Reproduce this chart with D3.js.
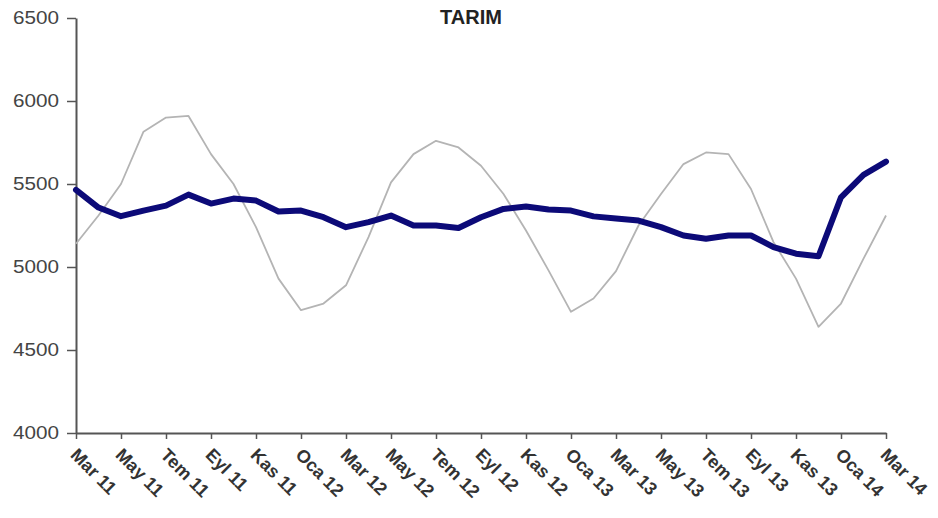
<!DOCTYPE html>
<html><head><meta charset="utf-8">
<script src="https://cdn.jsdelivr.net/npm/d3@7/dist/d3.min.js"></script>
<style>body{margin:0;background:#fff}svg{display:block}</style>
</head><body>
<svg id="c" width="938" height="518"></svg>
<script>
const months = ["Mar 11","Nis 11","May 11","Haz 11","Tem 11","Ağu 11","Eyl 11","Eki 11","Kas 11","Ara 11",
"Oca 12","Şub 12","Mar 12","Nis 12","May 12","Haz 12","Tem 12","Ağu 12","Eyl 12","Eki 12","Kas 12","Ara 12",
"Oca 13","Şub 13","Mar 13","Nis 13","May 13","Haz 13","Tem 13","Ağu 13","Eyl 13","Eki 13","Kas 13","Ara 13",
"Oca 14","Şub 14","Mar 14"];
const seasonal = [5465,5358,5306,5340,5370,5436,5382,5412,5400,5334,5340,5300,5240,5270,5310,5250,5250,5235,5300,5350,5364,5346,5340,5305,5292,5280,5240,5190,5170,5190,5190,5120,5080,5065,5420,5555,5635];
const raw = [5140,5310,5500,5815,5900,5910,5680,5500,5240,4930,4740,4780,4890,5180,5510,5680,5760,5720,5610,5440,5220,4980,4730,4810,4975,5250,5440,5620,5690,5680,5470,5150,4930,4640,4780,5050,5310];
const yTicks = [4000,4500,5000,5500,6000,6500];
const title = "TARIM";

const svg = d3.select("#c");
const mLeft = 76, mRight = 886, mTop = 18, mBottom = 433;
const x = d3.scalePoint().domain(months).range([mLeft, mRight]);
const y = d3.scaleLinear().domain([4000, 6500]).range([mBottom, mTop]);

// y axis
const ya = svg.append("g").attr("transform", `translate(${mLeft},0)`)
  .call(d3.axisLeft(y).tickValues(yTicks).tickFormat(d3.format("d")).tickSize(9).tickSizeOuter(0).tickPadding(8));
ya.select(".domain").attr("stroke", "#555").attr("stroke-width", 2);
ya.selectAll(".tick line").attr("stroke", "#555").attr("stroke-width", 1.5);
ya.selectAll(".tick text").attr("font-family", "Liberation Sans, Arial, sans-serif")
  .attr("font-size", 18).attr("fill", "#444").attr("textLength", 46).attr("lengthAdjust", "spacingAndGlyphs");

// x axis
const shown = months.filter((d, i) => i % 2 === 0);
const xa = svg.append("g").attr("transform", `translate(0,${mBottom})`)
  .call(d3.axisBottom(x).tickValues(shown).tickSize(6).tickSizeOuter(0));
xa.select(".domain").attr("stroke", "#555").attr("stroke-width", 2);
xa.selectAll(".tick line").attr("stroke", "#555").attr("stroke-width", 1.5);
xa.selectAll(".tick text")
  .attr("font-family", "Liberation Sans, Arial, sans-serif").attr("font-weight", "bold")
  .attr("font-size", 18).attr("fill", "#333")
  .attr("text-anchor", "start").attr("dy", null).attr("y", 0)
  .attr("transform", "translate(-7,23) rotate(45)");

const line = d3.line().x((d, i) => x(months[i])).y(d => y(d));
svg.append("path").datum(raw).attr("d", line).attr("fill", "none")
  .attr("stroke", "#b4b4b4").attr("stroke-width", 1.8).attr("stroke-linejoin", "round");
svg.append("path").datum(seasonal).attr("d", line).attr("fill", "none")
  .attr("stroke", "#0c0a78").attr("stroke-width", 6).attr("stroke-linejoin", "round").attr("stroke-linecap", "round");

svg.append("text").attr("x", 471).attr("y", 24).attr("text-anchor", "middle")
  .attr("font-family", "Liberation Sans, Arial, sans-serif").attr("font-weight", "bold")
  .attr("font-size", 20).attr("fill", "#222").text(title);
</script>
</body></html>
